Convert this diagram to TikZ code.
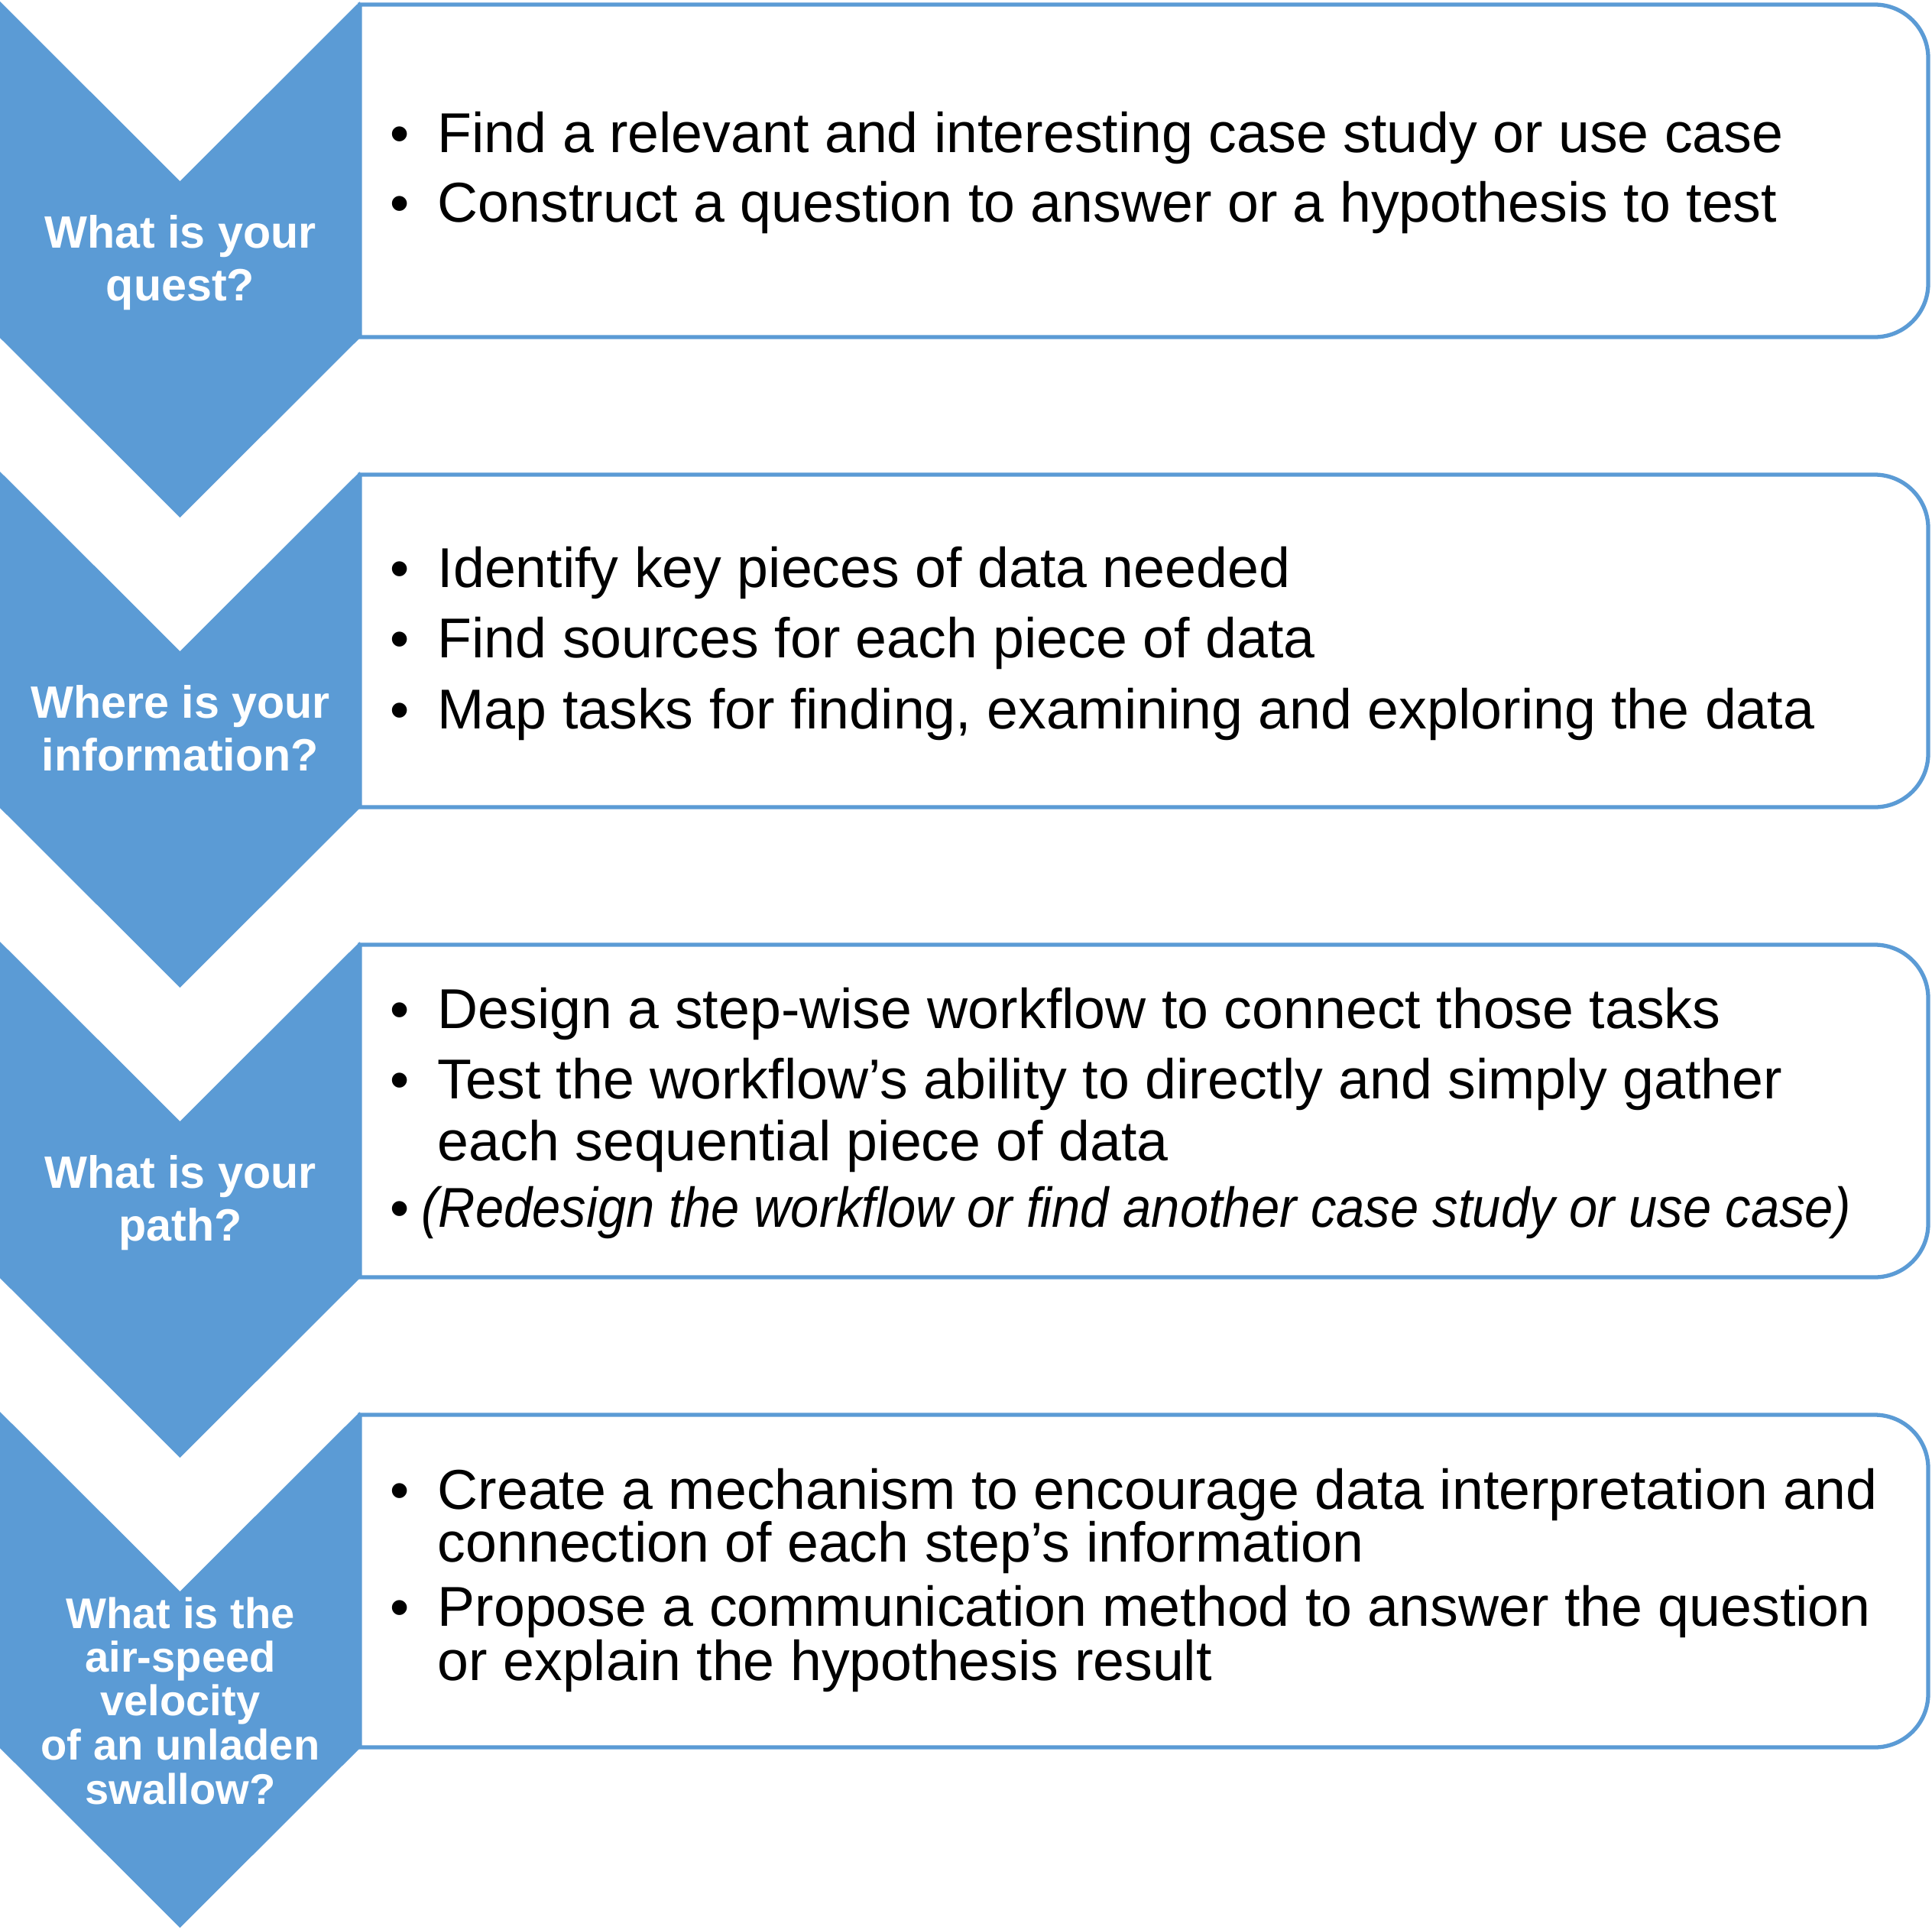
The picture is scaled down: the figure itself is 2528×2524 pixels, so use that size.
\documentclass[tikz,border=0pt]{standalone}
\usepackage{fontspec}
\usepackage{graphicx}
\setmainfont{Liberation Sans}
\definecolor{chevblue}{HTML}{5B9BD5}
\begin{document}
\begin{tikzpicture}[x=0.01cm,y=-0.01cm,
  boxline/.style={draw=chevblue, line width=1.5pt, fill=white},
  chev/.style={fill=chevblue, draw=none},
  body/.style={font=\fontsize{20.9}{24}\selectfont, inner sep=0pt, anchor=base west, text=black},
  bul/.style={font=\fontsize{20.49}{24}\selectfont, inner sep=0pt, anchor=base, text=black},
  ttl/.style={font=\fontsize{16.85}{20}\selectfont\bfseries, inner sep=0pt, anchor=base, text=white},
  ttlsm/.style={font=\fontsize{15.95}{18}\selectfont\bfseries, inner sep=0pt, anchor=base, text=white}]
\useasboundingbox (0,0) rectangle (2528,2524);
\fill[white] (0,0) rectangle (2528,2524);
% boxes
\foreach \t in {2,617,1232,1847}{
  \draw[boxline] (471,\t+4) -- (2453,\t+4)
    arc[start angle=-90, end angle=0, radius=70] -- (2523,\t+369)
    arc[start angle=0, end angle=90, radius=70] -- (471,\t+439) -- cycle;
}
% chevrons
\foreach \t in {2,617,1232,1847}{
  \fill[chev] (0,\t) -- (235.5,\t+235) -- (471,\t) -- (471,\t+440)
    -- (235.5,\t+675) -- (0,\t+440) -- cycle;
}
% titles
\node[ttl] (c1a) at (236,324) {What is your};
\node[ttl] (c1b) at (236,393) {quest?};
\node[ttl] (c2a) at (236,939) {Where is your};
\node[ttl] (c2b) at (236,1008) {information?};
\node[ttl] (c3a) at (236,1554) {What is your};
\node[ttl] (c3b) at (236,1623) {path?};
\node[ttlsm] (c4a) at (236,2130) {What is the};
\node[ttlsm] (c4b) at (236,2187) {air-speed};
\node[ttlsm] (c4c) at (236,2244) {velocity};
\node[ttlsm] (c4d) at (236,2302) {of an unladen};
\node[ttlsm] (c4e) at (236,2360) {swallow?};
% box 1
\node[bul] (u1a) at (523,199) {•};
\node[body] (b1a) at (572,199) {Find a relevant and interesting case study or use case};
\node[bul] (u1b) at (523,290) {•};
\node[body] (b1b) at (572,290) {Construct a question to answer or a hypothesis to test};
% box 2
\node[bul] (u2a) at (523,768) {•};
\node[body] (b2a) at (572,768) {Identify key pieces of data needed};
\node[bul] (u2b) at (523,860) {•};
\node[body] (b2b) at (572,860) {Find sources for each piece of data};
\node[bul] (u2c) at (523,953) {•};
\node[body] (b2c) at (572,953) {Map tasks for finding, examining and exploring the data};
% box 3
\node[bul] (u3a) at (523,1345) {•};
\node[body] (b3a) at (572,1345) {Design a step-wise workflow to connect those tasks};
\node[bul] (u3b) at (523,1437) {•};
\node[body] (b3b) at (572,1437) {Test the workflow’s ability to directly and simply gather};
\node[body] (b3c) at (572,1518) {each sequential piece of data};
\node[bul] (u3d) at (523,1605) {•};
\node[body, font=\fontsize{20.9}{24}\selectfont\itshape] (b3d) at (551,1605) {\scalebox{0.91}[1]{(Redesign the workflow or find another case study or use case)}};
% box 4
\node[bul] (u4a) at (523,1974) {•};
\node[body] (b4a) at (572,1974) {Create a mechanism to encourage data interpretation and};
\node[body] (b4b) at (572,2043) {connection of each step’s information};
\node[bul] (u4c) at (523,2127) {•};
\node[body] (b4c) at (572,2127) {Propose a communication method to answer the question};
\node[body] (b4d) at (572,2198) {or explain the hypothesis result};
\end{tikzpicture}
\end{document}
